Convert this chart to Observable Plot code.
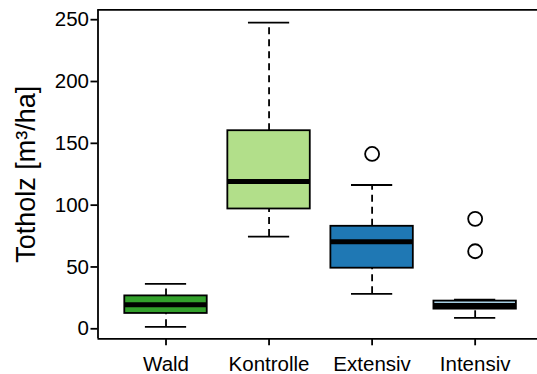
<!DOCTYPE html>
<html>
<head>
<meta charset="utf-8">
<script src="https://cdn.jsdelivr.net/npm/d3@7"></script>
<script src="https://cdn.jsdelivr.net/npm/@observablehq/plot@0.6"></script>
<style>
  html, body { margin: 0; padding: 0; background: #fff; }
  svg [aria-label$="axis tick"] { stroke-width: 1.8px; }
</style>
</head>
<body>
<div id="chart"></div>
<script>
const categories = ["Wald", "Kontrolle", "Extensiv", "Intensiv"];
const whiskerLow = [1.6, 74.6, 28.3, 8.9];
const q1 = [12.4, 96.9, 49.0, 15.9];
const median = [19.4, 119.2, 70.3, 18.9];
const q3 = [26.6, 160.2, 82.9, 22.4];
const whiskerHigh = [36.3, 247.7, 116.3, 23.5];
const outlierCategory = ["Extensiv", "Intensiv", "Intensiv"];
const outlierValue = [141.4, 88.9, 62.7];
const colors = ["#33a02c", "#b2df8a", "#1f78b4", "#a6cee3"];
const yTicks = [0, 50, 100, 150, 200, 250];
const yLabel = "Totholz [m³/ha]";

const xDomain = [0.34, 4.605];
const yDomain = [-8.1, 258];

const boxes = categories.map((c, i) => ({
  cat: c, pos: i + 1, lo: whiskerLow[i], q1: q1[i], med: median[i],
  q3: q3[i], hi: whiskerHigh[i], color: colors[i]
}));
const outliers = outlierCategory.map((c, i) => ({
  pos: categories.indexOf(c) + 1, value: outlierValue[i]
}));

const halfBox = 0.4, halfCap = 0.2;

const plot = Plot.plot({
  width: 537,
  height: 374,
  marginLeft: 97.5,
  marginRight: 0,
  marginTop: 9.3,
  marginBottom: 35.7,
  style: { fontFamily: "'Liberation Sans', Arial, sans-serif", fontSize: "20.5px", color: "#000", background: "#fff" },
  x: {
    type: "linear", domain: xDomain, ticks: [1, 2, 3, 4],
    tickFormat: d => categories[d - 1], tickSize: 7, tickPadding: 11, label: null
  },
  y: {
    domain: yDomain, ticks: yTicks, tickSize: 7, tickPadding: 2, label: null,
    tickFormat: d => String(d)
  },
  marks: [
    Plot.ruleX([xDomain[0]], { stroke: "#000", strokeWidth: 1.8 }),
    Plot.ruleY([yDomain[0], yDomain[1]], { stroke: "#000", strokeWidth: 1.8 }),
    Plot.ruleX(boxes, { x: "pos", y1: "q3", y2: "hi", stroke: "#000", strokeWidth: 1.8, strokeDasharray: "7,5" }),
    Plot.ruleX(boxes, { x: "pos", y1: "lo", y2: "q1", stroke: "#000", strokeWidth: 1.8, strokeDasharray: "7,5" }),
    Plot.ruleY(boxes, { y: "hi", x1: d => d.pos - halfCap, x2: d => d.pos + halfCap, stroke: "#000", strokeWidth: 1.8 }),
    Plot.ruleY(boxes, { y: "lo", x1: d => d.pos - halfCap, x2: d => d.pos + halfCap, stroke: "#000", strokeWidth: 1.8 }),
    Plot.rect(boxes, {
      x1: d => d.pos - halfBox, x2: d => d.pos + halfBox, y1: "q1", y2: "q3",
      fill: d => d.color, stroke: "#000", strokeWidth: 1.8
    }),
    Plot.ruleY(boxes, { y: "med", x1: d => d.pos - halfBox, x2: d => d.pos + halfBox, stroke: "#000", strokeWidth: 5 }),
    Plot.dot(outliers, { x: "pos", y: "value", r: 7, fill: "#fff", stroke: "#000", strokeWidth: 1.8 }),
    Plot.text([yLabel], {
      frameAnchor: "left", rotate: -90, dx: -72, text: d => d,
      fontSize: 27, fill: "#000", textAnchor: "middle", lineAnchor: "middle"
    })
  ]
});
document.getElementById("chart").appendChild(plot);
</script>
</body>
</html>
